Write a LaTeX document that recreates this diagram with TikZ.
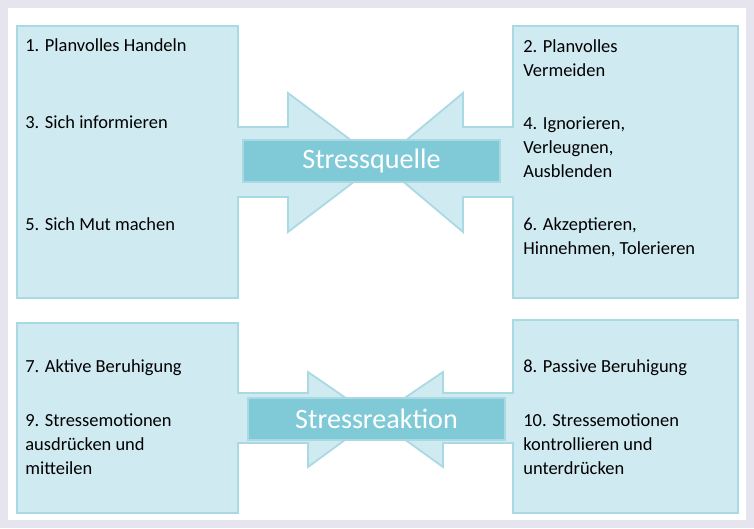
\documentclass[tikz,border=0pt]{standalone}
\usepackage{fontspec}
\setmainfont{Carlito}
\definecolor{frame}{HTML}{E6E4EF}
\definecolor{boxfill}{HTML}{CFEAF0}
\definecolor{boxline}{HTML}{A9D9E2}
\definecolor{labelfill}{HTML}{80CAD8}
\tikzset{
  part/.style={fill=boxfill, draw=boxline, line width=1pt, line join=miter},
  item/.style={anchor=west, inner sep=0pt, font=\fontsize{10.5}{12.5}\selectfont, align=left},
  topic/.style={fill=labelfill, draw=boxline, line width=1pt, text=white, minimum width=5.14cm,
    minimum height=0.84cm, font=\fontsize{16}{18}\selectfont}
}
\begin{document}
\begin{tikzpicture}[x=0.02cm, y=-0.02cm]
  \fill[frame] (0,0) rectangle (754,528);
  \fill[white] (8,8) rectangle (746,520);

  % top half
  \draw[part] (17,26) -- (238,26) -- (238,127) -- (288,127) -- (288,93) -- (380,162)
    -- (288,232) -- (288,197) -- (238,197) -- (238,298) -- (17,298) -- cycle;
  \draw[part] (738,26) -- (513,26) -- (513,127) -- (463,127) -- (463,93) -- (380,162)
    -- (463,232) -- (463,197) -- (513,197) -- (513,298) -- (738,298) -- cycle;
  \node[topic] (quelle) at (371.5,161) {Stressquelle};

  \node[item] (t1) at (25,45) {1. Planvolles Handeln};
  \node[item] (t3) at (25,122) {3. Sich informieren};
  \node[item] (t5) at (25,224) {5. Sich Mut machen};
  \node[item] (t2) at (523,58) {2. Planvolles\\[1pt]Vermeiden};
  \node[item] (t4) at (523,147) {4. Ignorieren,\\[1pt]Verleugnen,\\[1pt]Ausblenden};
  \node[item] (t6) at (523,237) {6. Akzeptieren,\\[1pt]Hinnehmen, Tolerieren};

  % bottom half
  \draw[part] (17,323) -- (238,323) -- (238,393) -- (308,393) -- (308,372) -- (375,418)
    -- (308,467) -- (308,443) -- (238,443) -- (238,513) -- (17,513) -- cycle;
  \draw[part] (738,320) -- (513,320) -- (513,393) -- (443,393) -- (443,372) -- (375,418)
    -- (443,467) -- (443,443) -- (513,443) -- (513,513) -- (738,513) -- cycle;
  \node[topic] (reaktion) at (376.5,419) {Stressreaktion};

  \node[item] (t7) at (25,368) {7. Aktive Beruhigung};
  \node[item] (t9) at (25,444) {9. Stressemotionen\\[1pt]ausdrücken und\\[1pt]mitteilen};
  \node[item] (t8) at (523,368) {8. Passive Beruhigung};
  \node[item] (t10) at (523,444) {10. Stressemotionen\\[1pt]kontrollieren und\\[1pt]unterdrücken};
\end{tikzpicture}
\end{document}
